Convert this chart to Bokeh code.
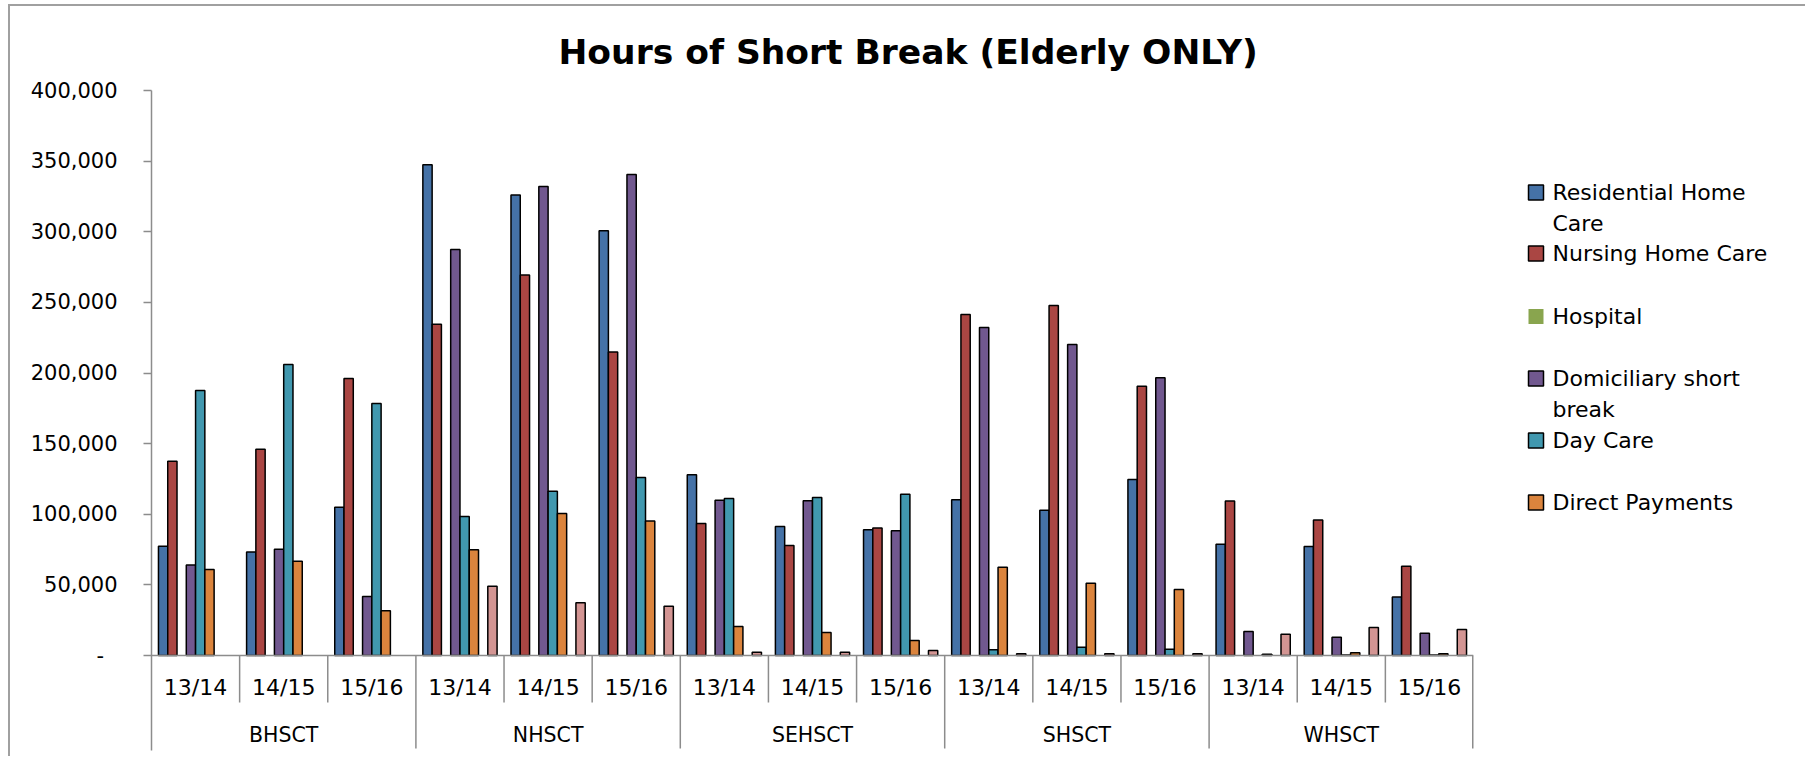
import numpy as np
from bokeh.plotting import figure
from bokeh.models import (FactorRange, Range1d, ColumnDataSource, FixedTicker,
                          NumeralTickFormatter)
from bokeh.transform import dodge
from bokeh.layouts import row
from bokeh.embed import file_html
from bokeh.resources import INLINE
from bokeh.core.properties import value

# ---------------- data ----------------
trusts = ["BHSCT", "NHSCT", "SEHSCT", "SHSCT", "WHSCT"]
years = ["13/14", "14/15", "15/16"]

residential = [77400, 73200, 105000, 347400, 326100, 300700, 127900, 91300, 89000,
               110200, 102900, 124600, 78700, 77200, 41500]
nursing = [137600, 146100, 196100, 234600, 269300, 214800, 93500, 77900, 90200,
           241400, 247800, 190700, 109300, 96000, 63200]
hospital = [None] * 15
domiciliary = [64000, 75300, 41800, 287400, 332100, 340500, 110000, 109500, 88300,
               232200, 220200, 196600, 17000, 13000, 15800]
day_care = [187600, 206000, 178400, 98400, 116300, 126000, 111200, 111900, 114200,
            4000, 5900, 4500, None, 300, 300]
direct_payments = [60900, 66800, 31600, 74800, 100500, 95300, 20500, 16300, 10600,
                   62500, 51200, 46700, 800, 1900, 1300]
series7 = [None] * 15
series8 = [None, None, None, 49100, 37300, 34900, 2300, 2300, 3500,
           1200, 1300, 1300, 15100, 19800, 18400]

series_names = ["Residential Home Care", "Nursing Home Care", "Hospital",
                "Domiciliary short break", "Day Care", "Direct Payments",
                "Series 7", "Series 8"]
series_values = [residential, nursing, hospital, domiciliary, day_care,
                 direct_payments, series7, series8]
colors = ["#4572A7", "#AA4643", "#89A54E", "#71588F", "#4198AF", "#DB843D",
          "#93A9CF", "#D39593"]

legend_lines = [["Residential Home", "Care"], ["Nursing Home Care"], ["Hospital"],
                ["Domiciliary short", "break"], ["Day Care"], ["Direct Payments"]]

y_ticks = [0, 50000, 100000, 150000, 200000, 250000, 300000, 350000, 400000]
title_text = "Hours of Short Break (Elderly ONLY)"

FONT = "DejaVu Sans"
AXIS_GREY = "#8c8c8c"

# ---------------- geometry (page pixels) ----------------
OX, OY = 10, 6               # content origin on the page (after margin + border)
FRAME_LEFT, FRAME_RIGHT = 151, 1473
FRAME_TOP, ZERO_Y, FRAME_BOTTOM = 90, 655, 750
MAIN_W = 1500
LEG_W = 295
TOTAL_H = 750
Y_MAX = 400000
VAL_PER_PX = Y_MAX / (ZERO_Y - FRAME_TOP)
y_bottom = -(FRAME_BOTTOM - ZERO_Y) * VAL_PER_PX


def py(page_y):
    """page pixel row -> data value on the main chart"""
    return (ZERO_Y - page_y) * VAL_PER_PX


# ---------------- main chart ----------------
factors = [(t, y) for t in trusts for y in years]
nf = len(factors)

p = figure(x_range=FactorRange(*factors, factor_padding=0, group_padding=0,
                               range_padding=0),
           y_range=Range1d(y_bottom, Y_MAX),
           width=MAIN_W, height=TOTAL_H, output_backend="svg",
           toolbar_location=None, x_axis_location=None,
           min_border_left=FRAME_LEFT - OX,
           min_border_right=OX + MAIN_W - FRAME_RIGHT,
           min_border_top=FRAME_TOP - OY,
           min_border_bottom=OY + TOTAL_H - FRAME_BOTTOM)
p.outline_line_color = None
p.grid.visible = False
p.background_fill_color = "white"
p.border_fill_color = "white"

p.title.text = title_text
p.title.align = "left"
p.title.offset = 558 - FRAME_LEFT
p.title.standoff = 37
p.title.text_font = FONT
p.title.text_font_size = "34.5px"
p.title.text_font_style = "bold"
p.title.text_color = "black"

n = len(series_names)
bw = 1.0 / (n + 1.5)
for i, (name, vals, col) in enumerate(zip(series_names, series_values, colors)):
    tops = [np.nan if v is None else float(v) for v in vals]
    src = ColumnDataSource(dict(x=factors, top=tops))
    p.vbar(x=dodge('x', (i - (n - 1) / 2) * bw, range=p.x_range), top='top',
           width=bw, source=src, fill_color=col, line_color="black",
           line_width=1.5)

# y axis (its line runs down the full frame, like the first separator)
p.yaxis.ticker = FixedTicker(ticks=y_ticks)
p.yaxis.formatter = NumeralTickFormatter(format="0,0")
p.yaxis.major_label_overrides = {0: "-  "}
p.yaxis.major_label_text_font = FONT
p.yaxis.major_label_text_font_size = "21px"
p.yaxis.major_label_text_color = "black"
p.yaxis.major_tick_out = 8
p.yaxis.major_tick_in = 0
p.yaxis.minor_tick_line_color = None
p.yaxis.axis_line_color = AXIS_GREY
p.yaxis.axis_line_width = 1.5
p.yaxis.major_tick_line_color = AXIS_GREY
p.yaxis.major_tick_line_width = 1.5
p.yaxis.major_label_standoff = 26

# hand-drawn category axis
p.segment(x0=[0], y0=[0], x1=[nf], y1=[0], line_color=AXIS_GREY, line_width=1.5)
year_sep = [k for k in range(1, nf) if k % len(years) != 0]
trust_sep = [k for k in range(len(years), nf, len(years))]
p.segment(x0=year_sep, y0=[0] * len(year_sep), x1=year_sep,
          y1=[py(702)] * len(year_sep), line_color=AXIS_GREY, line_width=1.5)
p.segment(x0=trust_sep, y0=[0] * len(trust_sep), x1=trust_sep,
          y1=[py(748)] * len(trust_sep), line_color=AXIS_GREY, line_width=1.5)
p.segment(x0=[nf], y0=[0], x1=[nf], y1=[py(748)], line_color=AXIS_GREY,
          line_width=3)
p.text(x=factors, y=[py(687)] * nf, text=[f[1] for f in factors],
       text_font=value(FONT), text_font_size=value("22px"), text_color="black",
       text_align="center", text_baseline="middle")
p.text(x=trusts, y=[py(734)] * len(trusts), text=trusts,
       text_font=value(FONT), text_font_size=value("20.5px"), text_color="black",
       text_align="center", text_baseline="middle")

# ---------------- legend panel ----------------
leg = figure(width=LEG_W, height=TOTAL_H, x_range=Range1d(OX + MAIN_W, OX + MAIN_W + LEG_W),
             y_range=Range1d(FRAME_BOTTOM, FRAME_TOP), output_backend="svg",
             toolbar_location=None, min_border=0)
leg.axis.visible = False
leg.grid.visible = False
leg.outline_line_color = None

marker_y = [192, 253, 316, 378, 440, 502]
line_gap = 31
for i, lines in enumerate(legend_lines):
    has_bars = any(v is not None for v in series_values[i])
    leg.rect(x=[1535.5], y=[marker_y[i]], width=[15], height=[15],
             fill_color=colors[i],
             line_color="black" if has_bars else None, line_width=1.5)
    leg.text(x=[1552] * len(lines),
             y=[marker_y[i] + k * line_gap for k in range(len(lines))],
             text=lines, text_font=value(FONT), text_font_size=value("22px"),
             text_baseline="middle", text_color="black")

layout = row(p, leg, styles={"margin-left": "8px", "margin-top": "4px",
                             "border-left": "2px solid #a0a0a0",
                             "border-top": "2px solid #a0a0a0"})

open("out.html", "w").write(file_html(layout, INLINE))
